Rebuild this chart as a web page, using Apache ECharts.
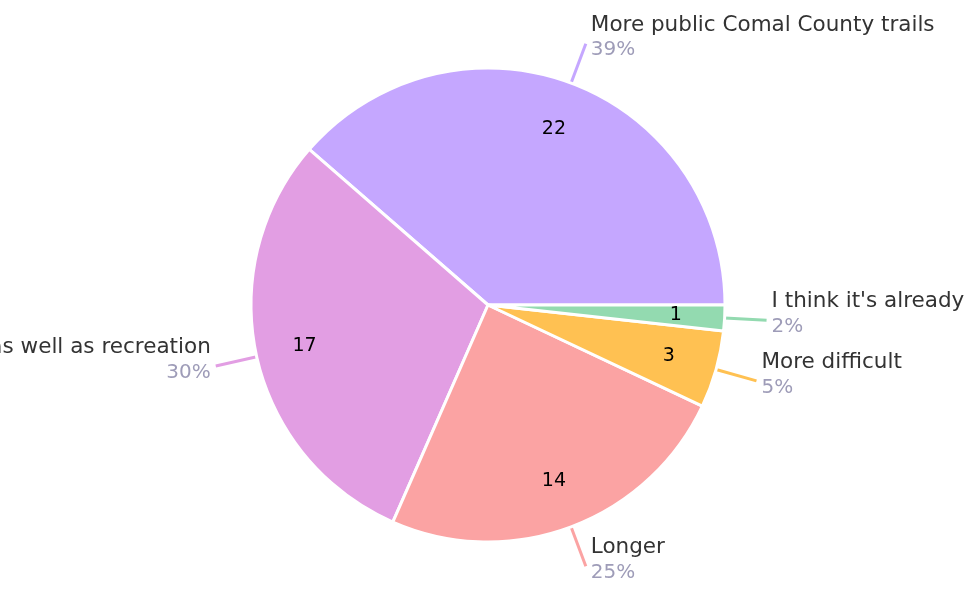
<!DOCTYPE html>
<html>
<head>
<meta charset="utf-8">
<script src="https://cdn.jsdelivr.net/npm/echarts@6/dist/echarts.min.js"></script>
<style>
html,body{margin:0;padding:0;background:#fff;}
#chart{width:966px;height:590px;}
</style>
</head>
<body>
<div id="chart"></div>
<script>
const categories = [
  "More public Comal County trails",
  "Trails for transportation as well as recreation",
  "Longer",
  "More difficult",
  "I think it's already good"
];
const counts = [22, 17, 14, 3, 1];
const colors = ["#c5a7ff", "#e29ee3", "#fba3a3", "#ffc152", "#93dab0"];

const chart = echarts.init(document.getElementById('chart'));
const FONT = '"DejaVu Sans", sans-serif';
const outerData = categories.map((n, i) => ({ name: n, value: counts[i], itemStyle: { color: colors[i] } }));
const innerData = categories.map((n, i) => ({ name: n, value: counts[i] }));

chart.setOption({
  animation: false,
  series: [
    {
      type: 'pie',
      center: [488, 305],
      radius: [0, 237],
      startAngle: 0,
      clockwise: false,
      avoidLabelOverlap: true,
      itemStyle: { borderColor: '#fff', borderWidth: 3 },
      label: {
        show: true,
        position: 'outside',
        overflow: 'none',
        bleedMargin: -2000,
        padding: [0, 0, 12, 0],
        formatter: p => '{n|' + p.name + '}\n{p|' + Math.round(p.percent) + '%}',
        rich: {
          n: { fontFamily: FONT, fontSize: 21.5, color: '#333333', lineHeight: 25 },
          p: { fontFamily: FONT, fontSize: 20, color: '#9e9cb8', lineHeight: 25 }
        }
      },
      labelLine: {
        show: true,
        length: 42,
        length2: 0,
        smooth: false,
        lineStyle: { width: 3 }
      },
      data: outerData
    },
    {
      type: 'pie',
      center: [488, 305],
      radius: [160, 210],
      startAngle: 0,
      clockwise: false,
      silent: true,
      z: 5,
      itemStyle: { color: 'rgba(0,0,0,0)', borderWidth: 0 },
      label: {
        show: true,
        position: 'inside',
        formatter: p => String(p.value),
        fontFamily: FONT,
        fontSize: 19,
        color: '#000'
      },
      labelLine: { show: false },
      data: innerData
    }
  ]
});
</script>
</body>
</html>
